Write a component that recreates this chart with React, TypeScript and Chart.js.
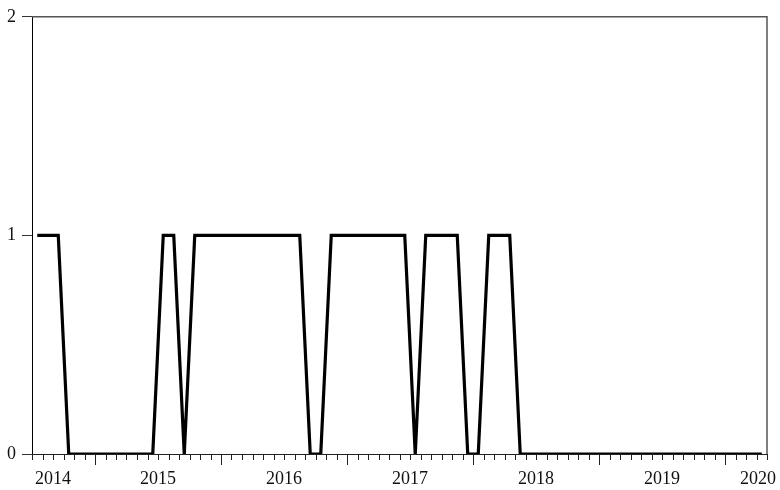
import { useEffect, useRef } from 'react';
import { Chart, registerables } from 'chart.js';

Chart.register(...registerables);

// Monthly series, 2014M07 .. 2020M04
const START_YEAR = 2014;
const START_MONTH = 7;
const SERIES: number[] = [
  1, 1, 1,
  0, 0, 0, 0, 0, 0, 0, 0, 0,
  1, 1,
  0,
  1, 1, 1, 1, 1, 1, 1, 1, 1, 1, 1,
  0, 0,
  1, 1, 1, 1, 1, 1, 1, 1,
  0,
  1, 1, 1, 1,
  0, 0,
  1, 1, 1,
  0, 0, 0, 0, 0, 0, 0, 0, 0, 0, 0, 0,
  0, 0, 0, 0, 0, 0, 0, 0, 0, 0, 0, 0,
];
const MONTHS: string[] = SERIES.map((_, i) => {
  const m = START_MONTH - 1 + i;
  const y = START_YEAR + Math.floor(m / 12);
  const mm = (m % 12) + 1;
  return `${y}M${mm < 10 ? '0' + mm : mm}`;
});
const Y_TICKS = [0, 1, 2];
const YEAR_LABELS = ['2014', '2015', '2016', '2017', '2018', '2019', '2020'];

const FONT = '"Liberation Serif", "Times New Roman", serif';

export default function App() {
  const ref = useRef<HTMLCanvasElement>(null);

  useEffect(() => {
    document.body.style.margin = '0';
    const canvas = ref.current!;
    const data = SERIES.map((v, i) => ({ x: i + 0.5, y: v, label: MONTHS[i] }));

    const framePlugin = {
      id: 'evFrame',
      beforeDatasetsDraw(chart: any) {
        const { ctx, chartArea } = chart;
        const { left, right, top, bottom } = chartArea;
        const x = chart.scales.x;
        ctx.save();
        // top & right border
        ctx.strokeStyle = '#555';
        ctx.lineWidth = 1.5;
        ctx.beginPath();
        ctx.moveTo(left, top);
        ctx.lineTo(right, top);
        ctx.lineTo(right, bottom);
        ctx.stroke();
        // bottom axis
        ctx.strokeStyle = '#222';
        ctx.lineWidth = 1;
        ctx.beginPath();
        ctx.moveTo(left, bottom + 0.5);
        ctx.lineTo(right + 1, bottom + 0.5);
        ctx.stroke();
        // ticks at month boundaries
        for (let b = 0; b <= SERIES.length; b++) {
          const px = Math.round(x.getPixelForValue(b)) + 0.5;
          const monthIdx = (START_MONTH - 1 + b) % 12;
          const len = monthIdx === 0 ? 11 : 6;
          ctx.beginPath();
          ctx.moveTo(px, bottom);
          ctx.lineTo(px, bottom + len);
          ctx.stroke();
        }
        // year labels
        ctx.font = `18px ${FONT}`;
        ctx.fillStyle = '#111';
        ctx.textBaseline = 'middle';
        ctx.textAlign = 'left';
        YEAR_LABELS.forEach((lab) => {
          const yr = parseInt(lab, 10);
          const centerB = (yr - START_YEAR) * 12 - (START_MONTH - 1) + 6;
          const cx = x.getPixelForValue(centerB);
          const w = ctx.measureText(lab).width;
          let lx = cx - w / 2;
          if (lx < left + 3) lx = left + 3;
          if (lx + w > right + 9) lx = right + 9 - w;
          ctx.fillText(lab, lx, bottom + 25);
        });
        ctx.restore();
      },
    };

    const chart = new Chart(canvas, {
      type: 'line',
      data: {
        datasets: [
          {
            data: data as any,
            borderColor: '#000',
            borderWidth: 3.2,
            pointRadius: 0,
            tension: 0,
            fill: false,
            borderJoinStyle: 'miter',
            borderCapStyle: 'butt',
          },
        ],
      },
      options: {
        animation: false,
        responsive: false,
        parsing: { xAxisKey: 'x', yAxisKey: 'y' },
        layout: { padding: { left: 0, right: 13, top: 15, bottom: 36 } },
        plugins: { legend: { display: false }, tooltip: { enabled: false } },
        scales: {
          x: {
            type: 'linear',
            display: false,
            min: 0,
            max: SERIES.length,
          },
          y: {
            type: 'linear',
            min: 0,
            max: 2,
            afterBuildTicks: (s: any) => {
              s.ticks = Y_TICKS.map((v) => ({ value: v }));
            },
            afterFit: (s: any) => {
              s.width = 32;
            },
            grid: { drawOnChartArea: false, drawTicks: true, tickLength: 10, color: '#333' },
            border: { display: true, color: '#000', width: 1 },
            ticks: {
              padding: 6,
              color: '#111',
              font: { family: FONT, size: 18 },
            },
          },
        },
      },
      plugins: [framePlugin],
    });
    return () => chart.destroy();
  }, []);

  return <canvas ref={ref} width={780} height={490} style={{ display: 'block' }} />;
}
